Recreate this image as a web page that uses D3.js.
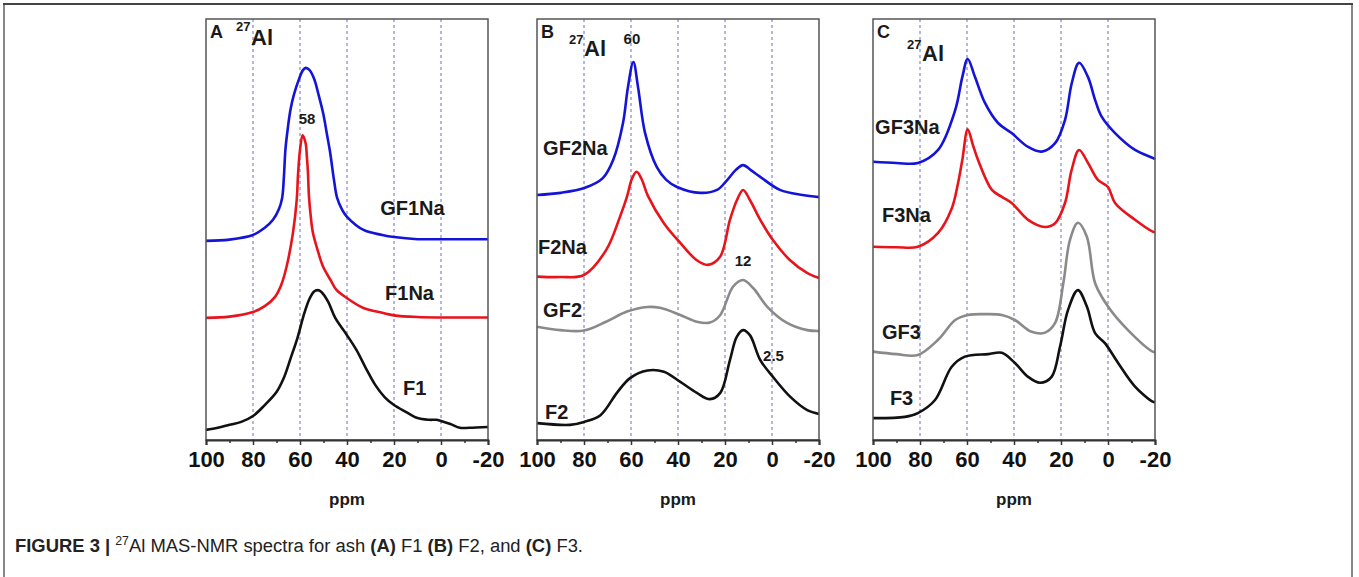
<!DOCTYPE html>
<html lang="en">
<head>
  <meta charset="UTF-8">
  <title>27Al MAS-NMR spectra</title>
  <script src="https://d3js.org/d3.v7.min.js"></script>
  <style>
    body { margin: 0; padding: 0; background: #fff; }
    svg { display: block; font-family: "Liberation Sans", Arial, sans-serif; }
    .tick text { font-weight: bold; font-size: 22px; fill: #111; }
    .tick line { stroke: #333; stroke-width: 1.5px; }
    .lbl { font-weight: bold; fill: #1a1a1a; }
  </style>
</head>
<body>
<div id="chart"></div>
<script>
  // --- data: [ppm, intensity (a.u.)] ---
  const gf1na = [[100,47.3],[90,47.6],[80,48.7],[75,50.4],[71.5,52.3],[69,54.8],[67.6,57.5],[66.8,63],[66.2,69],[65.2,74],[64,78.6],[62.5,82.2],[60.5,85.6],[58.8,87.8],[57.5,88.4],[56,87.9],[54,85.8],[52,81.8],[50.1,77.5],[48.5,72.5],[47.2,68.4],[45.6,62],[44.2,57.5],[42,54.6],[40,53.0],[33,49.9],[25,48.7],[20,48.2],[10,47.7],[0,47.7],[-20,47.7]];
  const f1na  = [[100,29.0],[90,29.3],[80,30.4],[75,31.8],[70.6,34.0],[68,36.8],[65.7,41.2],[63,49.2],[61.4,57.0],[60.8,63.4],[60,68.9],[58.9,72.4],[57.6,70.5],[57.1,67.5],[56.6,63.4],[56.2,58],[55.4,53],[54.5,49.2],[52.5,45.1],[50.2,41.2],[47,38.0],[44.4,35.6],[40,33.7],[33.2,31.4],[25,30.2],[20,29.6],[10,29.2],[0,29.1],[-20,29.1]];
  const f1    = [[100,2.4],[95,2.9],[90,3.6],[85,4.3],[80,5.7],[75,8.3],[70,11.4],[67,14.6],[64,19.4],[61,24.4],[58.5,29.5],[56,33.5],[54,35.3],[52.5,35.6],[51,35.2],[48,32.8],[45,29.0],[40,24.9],[36,21.4],[32,17.1],[28,13.1],[24,10.2],[20,8.3],[15,6.7],[10,5.2],[5,4.8],[2,4.8],[0,4.5],[-4,3.8],[-8,2.9],[-12,2.9],[-20,3.1]];

  const gf2na = [[100,58.2],[90,58.7],[79.6,59.9],[72,62.2],[67.6,66.5],[63.4,75.3],[61.3,83.8],[59,89.8],[57,83.8],[54,72.9],[49,64.8],[45,61.8],[40.4,60.1],[30.6,58.7],[23.4,59.4],[19,61.8],[15.5,64.1],[12.3,65.3],[9,64.1],[5,62.5],[-3.4,59.4],[-13,58.2],[-20,57.7]];
  const f2na  = [[100,38.8],[90,38.7],[80,39.2],[70.6,45.1],[64.7,53.0],[61.7,57.8],[59.5,62.2],[57.6,63.7],[55.5,62.0],[52.8,58.0],[46,51.5],[39,46.8],[32,42.7],[27.2,41.6],[22.1,43.5],[17.9,52.3],[14.9,57.0],[12.3,59.4],[9.4,57.0],[5,52.3],[-0.4,47.5],[-7.7,42.7],[-14.9,39.7],[-20,38.5]];
  const gf2   = [[100,26.9],[90,26.1],[80,26.0],[70.6,28.1],[61.7,30.5],[53,31.6],[47.7,31.4],[39,29.7],[32,28.1],[26.4,27.9],[22,29.7],[16.6,36.4],[12.3,38.0],[8,36.1],[2.1,31.7],[-6.4,27.8],[-15,26.1],[-20,25.9]];
  const f2    = [[100,4.0],[86,3.6],[80,4.3],[73,5.9],[66,11.2],[60.4,14.7],[53,16.5],[46,16.2],[39,13.8],[32,11.2],[26.4,9.7],[22,11.2],[17.9,19.0],[15,24.5],[12.3,26.1],[9.4,24.9],[5,19.0],[-0.4,15.0],[-7.7,10.3],[-15,7.1],[-20,6.2]];

  const gf3na = [[100,66.1],[90,65.8],[80.9,65.8],[72.3,68.9],[65,78.4],[62,86.2],[59.7,90.5],[56.6,86.2],[52.3,80.0],[46.8,75.3],[41,72.9],[34,69.6],[28.2,68.5],[22.5,70.5],[18.3,76.0],[15.4,84.8],[12.3,89.6],[8.5,86.2],[5.5,80.8],[2.7,76.8],[-3,72.9],[-11.5,68.9],[-19,67.0],[-20,66.7]];
  const f3na  = [[100,45.9],[90,45.8],[80.9,45.9],[72.3,49.2],[66.5,55.0],[64,60.5],[62,66.5],[59.7,73.8],[57.5,70.1],[55.3,66.5],[49.4,59.4],[45,57.7],[41,56.3],[34,52.3],[26.8,50.6],[22.5,51.5],[18.3,56.3],[15.5,64.1],[12.3,68.9],[8.5,65.8],[4.3,61.8],[0,60.1],[-3,56.3],[-11.5,52.3],[-19,49.5],[-20,49.4]];
  const gf3   = [[100,21.0],[90,20.4],[80.9,20.2],[72.3,23.8],[65,28.5],[59.6,29.7],[52,29.9],[45.2,29.7],[39.6,28.5],[32.5,25.7],[26.8,25.5],[22.5,27.8],[19,37.3],[16.2,47.5],[12.8,51.6],[9,48.3],[5.5,37.3],[0,31.7],[-8.5,26.1],[-19,21.0],[-20,20.9]];
  const f3    = [[100,5.2],[86.4,5.5],[80.9,6.4],[73.6,9.5],[66.5,17.4],[60.9,19.8],[51,20.4],[45.2,20.7],[39.6,18.3],[34,15.0],[28.9,13.6],[24,15.0],[20.4,22.2],[17,30.9],[12.8,35.6],[9,31.7],[5.5,25.4],[1.3,23.0],[-4.3,18.3],[-11.5,12.7],[-19,9.1],[-20,9.0]];

  const majorTicks = [100, 80, 60, 40, 20, 0, -20];
  const minorTicks = [90, 70, 50, 30, 10, -10];
  const gridLines = [80, 60, 40, 20, 0];

  const colors = { blue: "#1414d8", red: "#e8141c", gray: "#8a8a8a", black: "#111" };

  const panels = [
    { tag: "A", left: 206, series: [[gf1na, colors.blue], [f1na, colors.red], [f1, colors.black]],
      labels: [["GF1Na", 25.9, 53.4], ["F1Na", 23.8, 33.3], ["F1", 16.2, 10.7]],
      peaks: [["58", 57, 75.1, "middle"]], tagAl: [28, 19] },
    { tag: "B", left: 537, series: [[gf2na, colors.blue], [f2na, colors.red], [gf2, colors.gray], [f2, colors.black]],
      labels: [["GF2Na", 97.4, 67.7], ["F2Na", 99.6, 44.2], ["GF2", 97.4, 29.2], ["F2", 96.6, 5.0]],
      peaks: [["60", 59.6, 94.1, "middle"], ["12", 12.3, 41.3, "middle"], ["2.5", 3.8, 18.8, "start"]], tagAl: [30, 30] },
    { tag: "C", left: 873, series: [[gf3na, colors.blue], [f3na, colors.red], [gf3, colors.gray], [f3, colors.black]],
      labels: [["GF3Na", 99.1, 72.7], ["F3Na", 96.2, 51.8], ["GF3", 96.2, 24.0], ["F3", 92.8, 8.3]],
      peaks: [], tagAl: [32, 35] }
  ];

  const W = 1359, H = 577;
  const pw = 282, plotTop = 19, plotBottom = 440;

  const svg = d3.select("#chart").append("svg")
    .attr("width", W).attr("height", H);

  // outer figure frame
  svg.append("rect")
    .attr("x", 4).attr("y", 4).attr("width", 1348).attr("height", 600)
    .attr("fill", "none").attr("stroke", "#888").attr("stroke-width", 2);
  svg.append("line")
    .attr("x1", 3).attr("x2", 1353).attr("y1", 4).attr("y2", 4)
    .attr("stroke", "#444").attr("stroke-width", 2);

  const y = d3.scaleLinear().domain([0, 100]).range([plotBottom, plotBottom - 421]);

  panels.forEach(p => {
    const x = d3.scaleLinear().domain([100, -20]).range([p.left, p.left + pw]);
    const g = svg.append("g");

    // dashed reference lines
    g.selectAll(".grid").data(gridLines).enter().append("line")
      .attr("x1", d => x(d)).attr("x2", d => x(d))
      .attr("y1", plotTop).attr("y2", plotBottom)
      .attr("stroke", "#6b6bcc").attr("stroke-width", 1)
      .attr("stroke-dasharray", "3,3");

    // spectra
    const line = d3.line()
      .x(d => x(d[0])).y(d => y(d[1]))
      .curve(d3.curveCatmullRom.alpha(0.5));
    p.series.forEach(([data, col]) => {
      g.append("path").datum(data)
        .attr("d", line)
        .attr("fill", "none")
        .attr("stroke", col)
        .attr("stroke-width", 2.6)
        .attr("stroke-linejoin", "round");
    });

    // panel box
    g.append("rect")
      .attr("x", p.left).attr("y", plotTop).attr("width", pw).attr("height", plotBottom - plotTop)
      .attr("fill", "none").attr("stroke", "#555").attr("stroke-width", 1.5);

    // x axis
    const ax = g.append("g").attr("transform", `translate(0,${plotBottom})`)
      .call(d3.axisBottom(x).tickValues(majorTicks).tickSize(5).tickPadding(6).tickFormat(d => String(d)));
    ax.select(".domain").attr("stroke", "#333").attr("stroke-width", 2);
    g.append("g").attr("transform", `translate(0,${plotBottom})`)
      .call(d3.axisBottom(x).tickValues(minorTicks).tickSize(3).tickFormat(""))
      .call(a => a.select(".domain").remove());

    g.append("text")
      .attr("x", p.left + pw / 2).attr("y", 505)
      .attr("text-anchor", "middle").attr("class", "lbl")
      .style("font-size", "17px").text("ppm");

    // panel tag and nucleus
    g.append("text").attr("class", "lbl").attr("x", p.left + 4).attr("y", plotTop + 19)
      .style("font-size", "18px").text(p.tag);
    g.append("text").attr("class", "lbl").attr("x", p.left + p.tagAl[0] + 2).attr("y", plotTop + p.tagAl[1] - 5 + (p.tag === "A" ? -2 : 0))
      .style("font-size", "13px").text("27");
    g.append("text").attr("class", "lbl").attr("x", p.left + p.tagAl[0] + 17).attr("y", plotTop + p.tagAl[1] + 7)
      .style("font-size", "22px").text("Al");

    // series labels
    p.labels.forEach(([t, px, py]) => {
      g.append("text").attr("class", "lbl")
        .attr("x", x(px)).attr("y", y(py))
        .style("font-size", "20px").text(t);
    });
    p.peaks.forEach(([t, px, py, anchor]) => {
      g.append("text").attr("class", "lbl")
        .attr("x", x(px)).attr("y", y(py))
        .attr("text-anchor", anchor)
        .style("font-size", "15px").text(t);
    });
  });

  // caption
  const cap = svg.append("text")
    .attr("x", 15).attr("y", 552)
    .attr("textLength", 568).attr("lengthAdjust", "spacingAndGlyphs")
    .style("font-size", "18px").attr("fill", "#222");
  cap.append("tspan").style("font-weight", "bold").text("FIGURE 3 | ");
  cap.append("tspan").attr("dy", -7).style("font-size", "12px").text("27");
  cap.append("tspan").attr("dy", 7).text("Al MAS-NMR spectra for ash ");
  cap.append("tspan").style("font-weight", "bold").text("(A)");
  cap.append("tspan").text(" F1 ");
  cap.append("tspan").style("font-weight", "bold").text("(B)");
  cap.append("tspan").text(" F2, and ");
  cap.append("tspan").style("font-weight", "bold").text("(C)");
  cap.append("tspan").text(" F3.");
</script>
</body>
</html>
